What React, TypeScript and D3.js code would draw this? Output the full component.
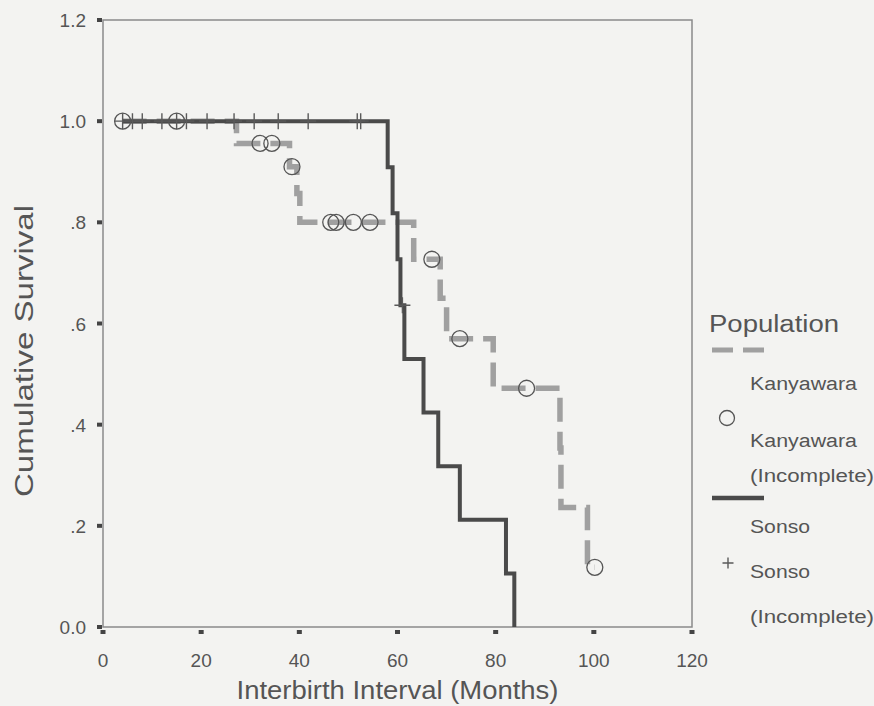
import React, { Component } from "react";
import * as d3 from "d3";

// Kaplan-Meier steps (months, cumulative survival)
const kanyawaraTimes = [4, 27.2, 38, 39.5, 40.1, 63.3, 68.7, 70, 79.5, 93.1, 93.3, 98.7, 100.2];
const kanyawaraSurvival = [1.0, 0.956, 0.91, 0.857, 0.8, 0.727, 0.65, 0.57, 0.472, 0.354, 0.236, 0.118, 0.118];
const kanyawaraCensoredTimes = [4, 15, 32, 34.4, 38.5, 46.4, 47.5, 51, 54.4, 67, 72.7, 86.3, 100.2];
const kanyawaraCensoredSurvival = [1, 1, 0.956, 0.956, 0.91, 0.8, 0.8, 0.8, 0.8, 0.727, 0.57, 0.472, 0.118];

const sonsoTimes = [4, 58, 59, 60, 60.6, 61.4, 65.3, 68.3, 72.7, 82.1, 83.8];
const sonsoSurvival = [1.0, 0.909, 0.818, 0.727, 0.636, 0.53, 0.424, 0.318, 0.212, 0.106, 0.0];
const sonsoCensoredTimes = [4, 6, 8, 12, 15, 17, 21.2, 26.7, 30.8, 35.7, 41.8, 51.8, 52.5, 61];
const sonsoCensoredSurvival = [1, 1, 1, 1, 1, 1, 1, 1, 1, 1, 1, 1, 1, 0.636];

const xTicks = [0, 20, 40, 60, 80, 100, 120];
const yTicks = [0, 0.2, 0.4, 0.6, 0.8, 1.0, 1.2];
const yTickLabels = ["0.0", ".2", ".4", ".6", ".8", "1.0", "1.2"];

class App extends Component {
	myRef: any;

	constructor(props: any) {
		super(props);
		this.myRef = React.createRef();
	}

	componentDidMount() {
		this.renderChart();
	}

	renderChart() {
		const w = 874;
		const h = 706;
		const left = 103;
		const right = 692;
		const top = 20;
		const bottom = 627;
		const textColor = "#555";
		const font = "'Liberation Sans', Arial, sans-serif";

		const xScale = d3.scaleLinear().domain([0, 120]).range([left, right]);
		const yScale = d3.scaleLinear().domain([0, 1.2]).range([bottom, top]);

		const svg = d3
			.select(this.myRef.current)
			.html("")
			.append("svg")
			.attr("width", w)
			.attr("height", h)
			.style("position", "absolute")
			.style("left", "0px")
			.style("top", "0px")
			.style("font-family", font);

		// Paper background
		svg.append("rect").attr("width", w).attr("height", h).attr("fill", "#f3f3f1");

		// Frame
		svg
			.append("rect")
			.attr("x", left)
			.attr("y", top)
			.attr("width", right - left)
			.attr("height", bottom - top)
			.attr("fill", "none")
			.attr("stroke", "#8a8a8a")
			.attr("stroke-width", 1.5);

		// y ticks (small squares) and labels
		svg
			.selectAll(".ytick")
			.data(yTicks)
			.enter()
			.append("rect")
			.attr("x", left - 6)
			.attr("y", d => yScale(d) - 2)
			.attr("width", 5)
			.attr("height", 4)
			.attr("fill", "#444");

		svg
			.selectAll(".ylabel")
			.data(yTicks)
			.enter()
			.append("text")
			.attr("x", 86)
			.attr("y", d => yScale(d) + 7)
			.attr("text-anchor", "end")
			.attr("fill", textColor)
			.style("font-size", "19px")
			.text((d, i) => yTickLabels[i]);

		// x ticks and labels
		svg
			.selectAll(".xtick")
			.data(xTicks)
			.enter()
			.append("rect")
			.attr("x", d => xScale(d) - 2.5)
			.attr("y", bottom + 3)
			.attr("width", 5)
			.attr("height", 4)
			.attr("fill", "#444");

		svg
			.selectAll(".xlabel")
			.data(xTicks)
			.enter()
			.append("text")
			.attr("x", d => xScale(d))
			.attr("y", 667)
			.attr("text-anchor", "middle")
			.attr("fill", textColor)
			.style("font-size", "19px")
			.text(d => String(d));

		// Axis titles
		svg
			.append("text")
			.attr("x", (left + right) / 2)
			.attr("y", 699)
			.attr("text-anchor", "middle")
			.attr("fill", textColor)
			.style("font-size", "25px")
			.attr("textLength", 322)
			.attr("lengthAdjust", "spacingAndGlyphs")
			.text("Interbirth Interval (Months)");

		svg
			.append("text")
			.attr("transform", "rotate(-90)")
			.attr("x", -351)
			.attr("y", 33)
			.attr("text-anchor", "middle")
			.attr("fill", textColor)
			.style("font-size", "26px")
			.attr("textLength", 292)
			.attr("lengthAdjust", "spacingAndGlyphs")
			.text("Cumulative Survival");

		const stepLine = d3
			.line<[number, number]>()
			.x(d => xScale(d[0]))
			.y(d => yScale(d[1]))
			.curve(d3.curveStepAfter);

		const kanyawaraPoints: [number, number][] = kanyawaraTimes.map((t, i) => [t, kanyawaraSurvival[i]]);
		const sonsoPoints: [number, number][] = sonsoTimes.map((t, i) => [t, sonsoSurvival[i]]);

		// Kanyawara (dashed gray)
		svg
			.append("path")
			.datum(kanyawaraPoints)
			.attr("fill", "none")
			.attr("stroke", "#a0a0a0")
			.attr("stroke-width", 5.5)
			.attr("stroke-dasharray", "24,10")
			.attr("d", stepLine);

		// Sonso (solid dark)
		svg
			.append("path")
			.datum(sonsoPoints)
			.attr("fill", "none")
			.attr("stroke", "#4a4a4a")
			.attr("stroke-width", 4)
			.attr("d", stepLine);

		// Sonso censored marks (+)
		const plus = (g: any, cx: number, cy: number, arm: number) => {
			g.append("path")
				.attr("d", `M${cx - arm},${cy}H${cx + arm}M${cx},${cy - arm}V${cy + arm}`)
				.attr("stroke", "#5a5a5a")
				.attr("stroke-width", 1.4)
				.attr("fill", "none");
		};
		sonsoCensoredTimes.forEach((t, i) => {
			plus(svg, xScale(t), yScale(sonsoCensoredSurvival[i]), 8);
		});

		// Kanyawara censored marks (circles)
		svg
			.selectAll(".kcens")
			.data(kanyawaraCensoredTimes)
			.enter()
			.append("circle")
			.attr("cx", d => xScale(d))
			.attr("cy", (d, i) => yScale(kanyawaraCensoredSurvival[i]))
			.attr("r", 8)
			.attr("fill", "none")
			.attr("stroke", "#555")
			.attr("stroke-width", 1.3);

		// Legend
		const legend = svg.append("g");
		const legendText = (x: number, y: number, txt: string, size: number, len: number) => {
			legend
				.append("text")
				.attr("x", x)
				.attr("y", y)
				.attr("fill", textColor)
				.style("font-size", size + "px")
				.attr("textLength", len)
				.attr("lengthAdjust", "spacingAndGlyphs")
				.text(txt);
		};

		legendText(709, 332, "Population", 23, 130);
		legend
			.append("line")
			.attr("x1", 712)
			.attr("x2", 764)
			.attr("y1", 350)
			.attr("y2", 350)
			.attr("stroke", "#a0a0a0")
			.attr("stroke-width", 5)
			.attr("stroke-dasharray", "21,10");
		legendText(750, 390, "Kanyawara", 18, 107);
		legend
			.append("circle")
			.attr("cx", 727)
			.attr("cy", 418)
			.attr("r", 7.5)
			.attr("fill", "none")
			.attr("stroke", "#555")
			.attr("stroke-width", 1.3);
		legendText(750, 447, "Kanyawara", 18, 107);
		legendText(750, 482, "(Incomplete)", 18, 124);
		legend
			.append("line")
			.attr("x1", 712)
			.attr("x2", 764)
			.attr("y1", 498)
			.attr("y2", 498)
			.attr("stroke", "#4a4a4a")
			.attr("stroke-width", 4.5);
		legendText(750, 533, "Sonso", 18, 60);
		plus(legend, 728, 563, 5.5);
		legendText(750, 578, "Sonso", 18, 60);
		legendText(750, 623, "(Incomplete)", 18, 124);
	}

	render() {
		return <div ref={this.myRef}></div>;
	}
}

export default App;
